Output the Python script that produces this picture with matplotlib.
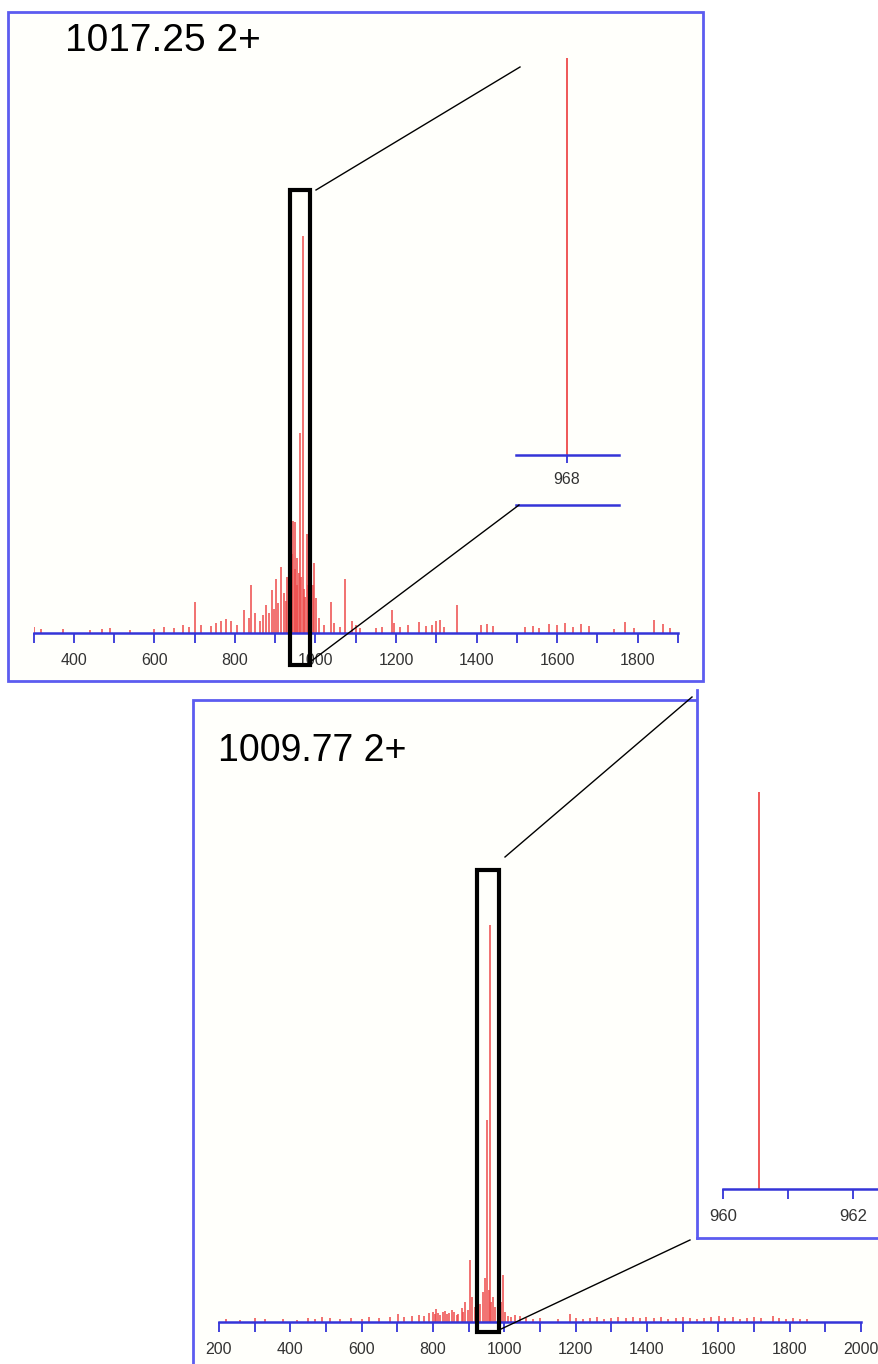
import matplotlib
matplotlib.use("Agg")
import matplotlib.pyplot as plt
from matplotlib.patches import Rectangle
from matplotlib.lines import Line2D

# ---------------- data ----------------
# precursor labels
top_title = "1017.25 2+"
bot_title = "1009.77 2+"

# top spectrum (m/z, relative intensity %)
top_mz = [302, 318, 374, 440, 470, 490, 540, 600, 625, 650, 672, 685, 702, 715, 740,
          752, 765, 778, 790, 805, 822, 835, 841, 850, 862, 870, 878, 885, 893, 898, 902,
          908, 915, 922, 926, 930, 934, 937, 941, 945, 948, 950, 953, 955, 958, 962, 965,
          968, 972, 975, 978, 981, 985, 988, 990, 993, 996, 1002, 1010, 1020, 1038, 1045,
          1060, 1074, 1090, 1100, 1110, 1150, 1165, 1189, 1196, 1210, 1230, 1258, 1275,
          1290, 1300, 1308, 1320, 1352, 1410, 1425, 1440, 1520, 1540, 1555, 1580, 1600,
          1620, 1640, 1660, 1680, 1740, 1769, 1790, 1841, 1863, 1880]
top_int = [1.5, 1.0, 1.0, 0.8, 1.0, 1.3, 0.8, 1.0, 1.5, 1.3, 2.0, 1.5, 7.8, 2.0, 1.8,
           2.5, 3.0, 3.5, 3.0, 2.0, 5.8, 3.8, 12.1, 5.0, 3.0, 4.5, 7.1, 5.0, 10.8, 6.0, 13.6,
           7.6, 16.6, 10.1, 8.0, 14.0, 9.0, 22.0, 20.0, 28.2, 16.0, 28.0, 12.0, 19.0, 15.1,
           50.4, 14.0, 100.0, 11.0, 9.0, 25.0, 12.0, 18.9, 9.0, 35.8, 12.0, 17.6, 8.8, 3.8,
           2.0, 7.8, 2.5, 1.5, 13.6, 3.0, 2.0, 1.3, 1.3, 1.5, 5.8, 2.5, 1.5, 2.0, 2.8, 1.8,
           2.0, 3.0, 3.3, 1.5, 7.1, 2.0, 2.3, 1.8, 1.5, 1.8, 1.3, 2.3, 2.0, 2.5, 1.5, 2.3,
           1.8, 1.0, 2.8, 1.3, 3.3, 2.3, 1.3]

# bottom spectrum (m/z, relative intensity %)
bot_mz = [220, 260, 300, 330, 380, 420, 450, 470, 490, 510, 540, 570, 600, 620, 650,
          680, 702, 720, 740, 760, 775, 790, 800, 805, 809, 815, 820, 827, 835, 840, 845,
          852, 860, 866, 871, 880, 885, 890, 897, 904, 910, 918, 925, 932, 940, 946, 952,
          956, 960.55, 964, 968, 975, 983, 990, 996, 1002, 1010, 1020, 1030, 1045, 1060,
          1080, 1100, 1150, 1184, 1200, 1220, 1240, 1260, 1280, 1300, 1320, 1340, 1360,
          1380, 1396, 1420, 1440, 1460, 1480, 1500, 1520, 1540, 1560, 1580, 1602, 1620,
          1640, 1660, 1680, 1700, 1720, 1752, 1770, 1790, 1810, 1830, 1850]
bot_int = [0.8, 0.5, 1.0, 0.8, 0.8, 0.5, 1.0, 0.8, 1.3, 1.0, 0.8, 1.0, 0.8, 1.3, 1.0,
           1.3, 2.0, 1.3, 1.5, 1.8, 1.5, 2.3, 2.5, 2.0, 3.3, 2.3, 1.8, 2.5, 2.8, 2.0, 2.3,
           3.0, 2.5, 1.8, 2.0, 3.5, 2.5, 5.0, 3.0, 15.6, 6.3, 3.8, 5.0, 4.5, 7.6, 11.0,
           50.9, 8.0, 100.0, 5.0, 6.3, 3.8, 3.0, 5.0, 11.8, 2.5, 1.5, 1.3, 1.8, 1.5, 1.0,
           0.8, 1.0, 0.8, 2.0, 1.0, 0.8, 1.0, 1.3, 0.8, 1.0, 1.3, 1.0, 1.3, 1.0, 1.3, 1.0,
           1.3, 0.8, 1.0, 1.3, 1.0, 0.8, 1.0, 1.3, 1.5, 1.0, 1.3, 0.8, 1.0, 1.3, 1.0, 1.5,
           1.0, 0.8, 1.0, 0.8, 0.8]

# axis ranges / ticks
top_range = (300, 1900)
top_labels = [400, 600, 800, 1000, 1200, 1400, 1600, 1800]
bot_range = (200, 2000)
bot_labels = [200, 400, 600, 800, 1000, 1200, 1400, 1600, 1800, 2000]
top_zoom_window = (936, 986)
bot_zoom_window = (923, 985)
top_inset_range = (967.215, 968.8)
top_inset_ticks = [968]
bot_inset_range = (960, 962.4)
bot_inset_labels = [960, 962]
bot_inset_minor = [961]

# ---------------- style ----------------
W, H = 879, 1364
RED = "#ee4a4a"
AXBLUE = "#3434d8"
FRAMEBLUE = "#5c5cf0"
TICKFONT = ["Liberation Sans", "DejaVu Sans"]
TITLEFONT = ["Liberation Sans", "DejaVu Sans"]


def fx(x):
    return x / W


def fy(y):
    return 1 - y / H


fig = plt.figure(figsize=(W / 100, H / 100), dpi=100)
fig.patch.set_facecolor("white")


def frame(x0, y0, x1, y1, z, fc="#fffffb"):
    r = Rectangle((fx(x0), fy(y1)), fx(x1) - fx(x0), (y1 - y0) / H,
                  transform=fig.transFigure, facecolor=fc, edgecolor=FRAMEBLUE,
                  linewidth=2, zorder=z)
    fig.add_artist(r)


def fline(x0, y0, x1, y1, color="black", lw=1.0, z=6):
    fig.add_artist(Line2D([fx(x0), fx(x1)], [fy(y0), fy(y1)], transform=fig.transFigure,
                          color=color, linewidth=lw, zorder=z))


def style_axis(ax, xr, major, minor, labelsize=11.5):
    ax.set_xlim(*xr)
    ax.set_ylim(0, 100)
    ax.set_facecolor("none")
    for s in ("top", "left", "right"):
        ax.spines[s].set_visible(False)
    ax.spines["bottom"].set_color(AXBLUE)
    ax.spines["bottom"].set_linewidth(1.8)
    ax.set_yticks([])
    ax.set_xticks(major)
    ax.set_xticklabels([str(v) for v in major])
    ax.set_xticks(minor, minor=True)
    ax.tick_params(axis="x", which="both", direction="out", length=7.5, width=1.3,
                   color=AXBLUE, labelsize=labelsize, labelcolor="#333333", pad=7)
    for t in ax.get_xticklabels():
        t.set_fontfamily(TICKFONT)


# ---------------- frames ----------------
frame(8, 12, 703, 681, -2)                 # top panel
frame(193, 700, 895, 1400, -2)             # bottom panel
# bottom inset box (white, only left and bottom edges visible)
fig.add_artist(Rectangle((fx(697), fy(1238)), fx(895) - fx(697), (1238 - 688) / H,
                         transform=fig.transFigure, facecolor="white", edgecolor="none",
                         zorder=-1))
fline(697, 690, 697, 1238, color=FRAMEBLUE, lw=2, z=-0.5)
fline(697, 1238, 895, 1238, color=FRAMEBLUE, lw=2, z=-0.5)

# ---------------- top spectrum ----------------
ax1 = fig.add_axes([fx(33.5), fy(633), fx(678) - fx(33.5), 397 / H])
style_axis(ax1, top_range, top_labels,
           [v for v in range(top_range[0], top_range[1] + 1, 100) if v not in top_labels])
ax1.vlines(top_mz, 0, top_int, color=RED, linewidth=1.1)
ax1.add_patch(Rectangle((top_zoom_window[0], -8.1), top_zoom_window[1] - top_zoom_window[0],
                        119.7, fill=False, edgecolor="black", linewidth=3,
                        clip_on=False, zorder=5))
fig.text(fx(65), fy(41), top_title, fontsize=28, va="center", ha="left",
         family=TITLEFONT, color="black")

# top inset
ax1i = fig.add_axes([fx(516), fy(455), fx(619) - fx(516), 397 / H])
style_axis(ax1i, top_inset_range, top_inset_ticks, [], labelsize=11.5)
ax1i.tick_params(axis="x", which="both", length=6, pad=6)
ax1i.vlines(top_mz, 0, top_int, color=RED, linewidth=1.3)
fline(516, 505, 619, 505, color=AXBLUE, lw=1.8, z=3)

# connectors top
fline(316, 190, 520, 67)
fline(310, 662, 519, 505)

# ---------------- bottom spectrum ----------------
ax2 = fig.add_axes([fx(219), fy(1322), fx(861) - fx(219), 397 / H])
style_axis(ax2, bot_range, bot_labels,
           [v for v in range(bot_range[0], bot_range[1] + 1, 100) if v not in bot_labels])
ax2.vlines(bot_mz, 0, bot_int, color=RED, linewidth=1.1)
ax2.add_patch(Rectangle((bot_zoom_window[0], -2.5), bot_zoom_window[1] - bot_zoom_window[0],
                        116.4, fill=False, edgecolor="black", linewidth=3,
                        clip_on=False, zorder=5))
fig.text(fx(218), fy(751), bot_title, fontsize=27, va="center", ha="left",
         family=TITLEFONT, color="black")

# bottom inset
ax2i = fig.add_axes([fx(723), fy(1189), fx(879) - fx(723), 397 / H])
style_axis(ax2i, bot_inset_range, bot_inset_labels, bot_inset_minor, labelsize=12)
ax2i.vlines(bot_mz, 0, bot_int, color=RED, linewidth=1.3)

# connectors bottom
fline(505, 857, 692, 697)
fline(499, 1330, 690, 1240)

fig.savefig("out.png", dpi=100)
